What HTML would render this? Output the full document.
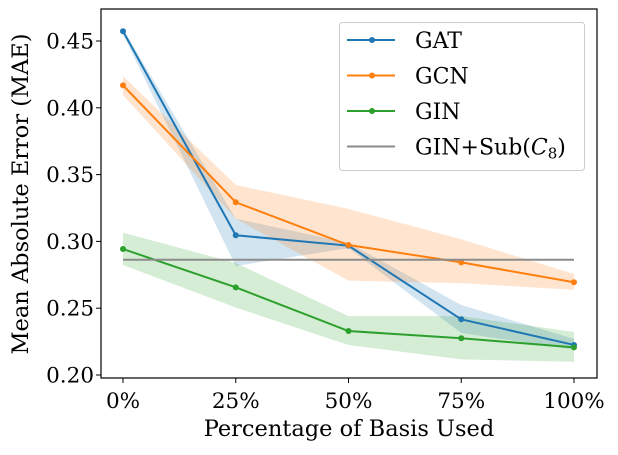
<!DOCTYPE html>
<html><head><meta charset="utf-8"><style>
body{margin:0;background:#fff}
svg text{font-family:"DejaVu Serif","Liberation Serif",serif;fill:#000}
</style></head><body>
<svg id="chart" width="618" height="450" xmlns="http://www.w3.org/2000/svg"></svg>
<script>
const categories=["0%","25%","50%","75%","100%"];
const gatMean=[0.4573,0.3046,0.2968,0.2417,0.2225];
const gatLow=[0.455,0.2816,0.295,0.2314,0.219];
const gatHigh=[0.459,0.317,0.299,0.2524,0.227];
const gcnMean=[0.4168,0.3293,0.2973,0.2843,0.2694];
const gcnLow=[0.4096,0.317,0.2706,0.2688,0.2637];
const gcnHigh=[0.4238,0.3422,0.3243,0.3016,0.2756];
const ginMean=[0.2943,0.2656,0.2329,0.2275,0.2207];
const ginLow=[0.2823,0.2505,0.2225,0.2117,0.2099];
const ginHigh=[0.3065,0.2838,0.2441,0.2441,0.2322];
const baseline=[0.2863];
const yTicks=[0.20,0.25,0.30,0.35,0.40,0.45];
const yTickLabels=["0.20","0.25","0.30","0.35","0.40","0.45"];

const NS="http://www.w3.org/2000/svg";
const svg=document.getElementById('chart');
const L=101,R=597,T=9,B=378;
const xs=i=>123+i*(574-123)/(categories.length-1);
const ys=v=>41+(0.45-v)/0.05*66.8;
function mk(tag,attrs,parent){const e=document.createElementNS(NS,tag);for(const k in attrs)e.setAttribute(k,attrs[k]);(parent||svg).appendChild(e);return e;}

const series=[
 {name:'gat',m:gatMean,lo:gatLow,hi:gatHigh,c:'#1f77b4'},
 {name:'gcn',m:gcnMean,lo:gcnLow,hi:gcnHigh,c:'#ff7f0e'},
 {name:'gin',m:ginMean,lo:ginLow,hi:ginHigh,c:'#2ca02c'}];
series.forEach(s=>{
 let d=s.hi.map((v,i)=>(i?'L':'M')+xs(i)+','+ys(v)).join('');
 for(let i=s.lo.length-1;i>=0;i--)d+='L'+xs(i)+','+ys(s.lo[i]);
 const p=mk('path',{d:d+'Z',fill:s.c,'fill-opacity':0.2,stroke:'none'});
 
 
});
series.forEach(s=>{
 const pl=mk('polyline',{points:s.m.map((v,i)=>xs(i)+','+ys(v)).join(' '),fill:'none',stroke:s.c,'stroke-width':2});
 
 
 s.m.forEach((v,i)=>{
  const c=mk('circle',{cx:xs(i),cy:ys(v),r:3,fill:s.c});
  
  
 });
});
const bl=mk('line',{x1:xs(0),x2:xs(categories.length-1),y1:ys(baseline[0]),y2:ys(baseline[0]),stroke:'#8c8c8c','stroke-width':2});



const fr=mk('rect',{x:L,y:T,width:R-L,height:B-T,fill:'none',stroke:'#000','stroke-width':1.2});


yTicks.forEach((v,i)=>{
 mk('line',{x1:L-5,x2:L,y1:ys(v),y2:ys(v),stroke:'#000'});
 const t=mk('text',{x:L-7,y:ys(v)+7.5,'text-anchor':'end','font-size':21.5});
 t.textContent=yTickLabels[i];
 
 
});
categories.forEach((c,i)=>{
 mk('line',{x1:xs(i),x2:xs(i),y1:B,y2:B+5,stroke:'#000'});
 const t=mk('text',{x:xs(i),y:B+30,'text-anchor':'middle','font-size':21.5});
 t.textContent=c;
 
 
});
const xt=mk('text',{x:349,y:436,'text-anchor':'middle','font-size':22.5});
xt.textContent='Percentage of Basis Used';


const yt=mk('text',{x:0,y:0,'text-anchor':'middle','font-size':22.5,transform:'translate(28,194) rotate(-90)'});
yt.textContent='Mean Absolute Error (MAE)';



const lg=mk('g',{});


mk('rect',{x:339.5,y:22.5,width:245,height:148,rx:3,fill:'#fff','fill-opacity':0.8,stroke:'#ccc'},lg);
const entries=[['GAT','#1f77b4',true],['GCN','#ff7f0e',true],['GIN','#2ca02c',true],['GIN+Sub(','#8c8c8c',false]];
entries.forEach((e,i)=>{
 const y=40+i*35.5;
 const g=mk('g',{},lg);
 
 
 mk('line',{x1:347,x2:395,y1:y,y2:y,stroke:e[1],'stroke-width':2},g);
 if(e[2])mk('circle',{cx:372,cy:y,r:3,fill:e[1]},g);
 const t=mk('text',{x:415,y:y+8,'font-size':22},g);
 if(i<3)t.textContent=e[0];
 else t.innerHTML='GIN+Sub(<tspan font-style="italic">C</tspan><tspan font-size="15" dy="4">8</tspan><tspan dy="-4">)</tspan>';
});
</script>
</body></html>
